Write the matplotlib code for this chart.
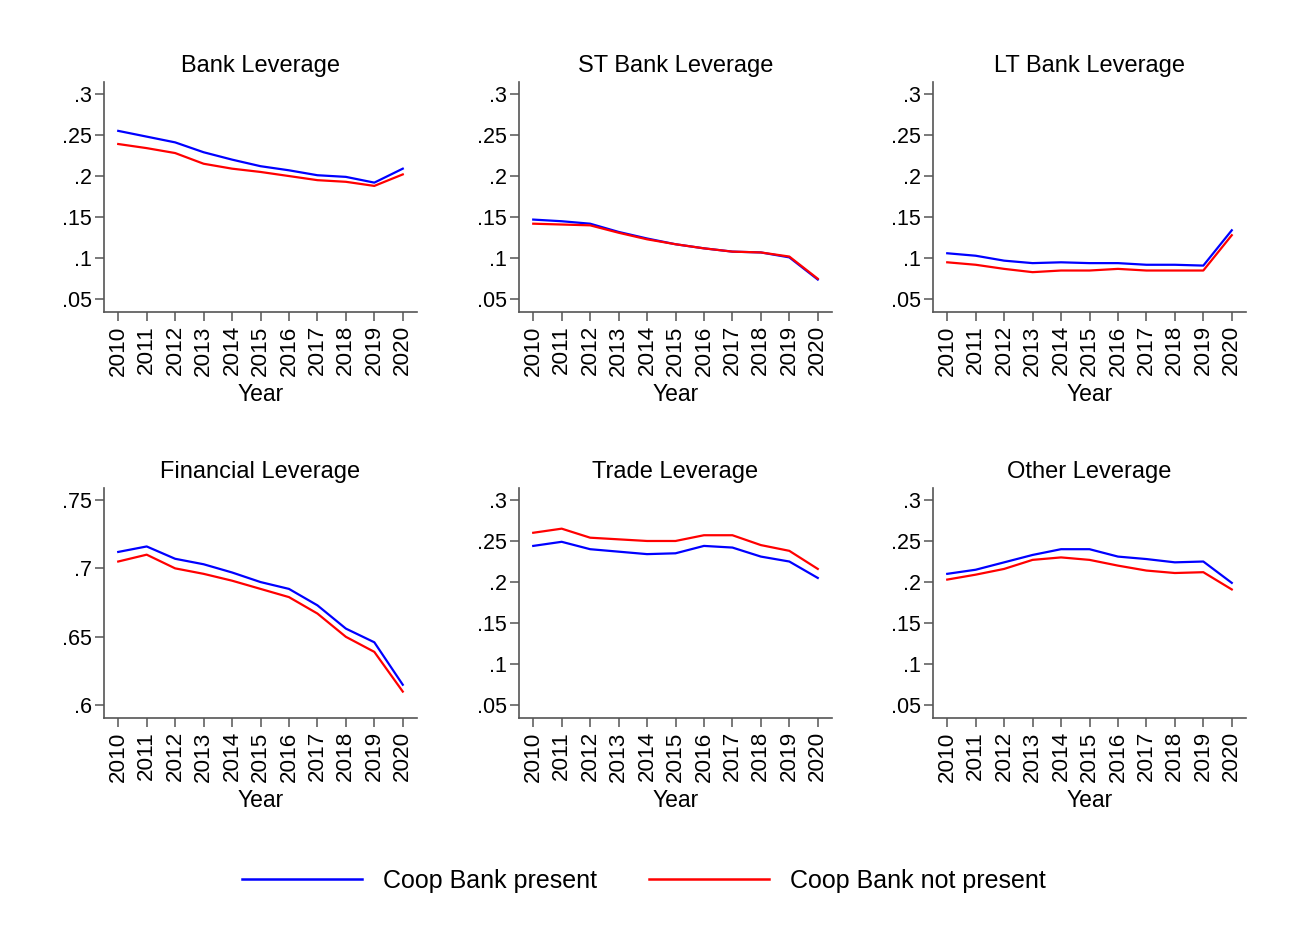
#!/usr/bin/env python3
# -*- coding: utf-8 -*-

import matplotlib
matplotlib.use('Agg')
import matplotlib.pyplot as plt
from matplotlib.ticker import FuncFormatter

years = [2010, 2011, 2012, 2013, 2014, 2015, 2016, 2017, 2018, 2019, 2020]

titles = ['Bank Leverage', 'ST Bank Leverage', 'LT Bank Leverage',
          'Financial Leverage', 'Trade Leverage', 'Other Leverage']

# coop bank present
bank_lev_p = [.255, .248, .241, .229, .220, .212, .207, .201, .199, .192, .209]
st_lev_p = [.147, .145, .142, .132, .124, .117, .112, .108, .107, .101, .074]
lt_lev_p = [.106, .103, .097, .094, .095, .094, .094, .092, .092, .091, .134]
fin_lev_p = [.712, .716, .707, .703, .697, .690, .685, .673, .656, .646, .615]
trade_lev_p = [.244, .249, .240, .237, .234, .235, .244, .242, .231, .225, .205]
other_lev_p = [.210, .215, .224, .233, .240, .240, .231, .228, .224, .225, .199]

# coop bank not present
bank_lev_np = [.239, .234, .228, .215, .209, .205, .200, .195, .193, .188, .202]
st_lev_np = [.142, .141, .140, .131, .123, .117, .112, .108, .107, .102, .075]
lt_lev_np = [.095, .092, .087, .083, .085, .085, .087, .085, .085, .085, .128]
fin_lev_np = [.705, .710, .700, .696, .691, .685, .679, .667, .650, .639, .610]
trade_lev_np = [.260, .265, .254, .252, .250, .250, .257, .257, .245, .238, .216]
other_lev_np = [.203, .209, .216, .227, .230, .227, .220, .214, .211, .212, .191]

yticks_small = [.05, .1, .15, .2, .25, .3]
yticks_fin = [.6, .65, .7, .75]

present = [bank_lev_p, st_lev_p, lt_lev_p, fin_lev_p, trade_lev_p, other_lev_p]
not_present = [bank_lev_np, st_lev_np, lt_lev_np, fin_lev_np, trade_lev_np, other_lev_np]

plt.rcParams['font.family'] = ['Liberation Sans', 'DejaVu Sans']


def stata_fmt(v, pos):
        s = ('%.2f' % v).rstrip('0').rstrip('.')
        if s.startswith('0'):
                s = s[1:]
        return s


def build_panel(ax, title, y_p, y_np, ticks):
        ax.plot(years, y_p, color='#0000ff', linewidth=1.6)
        ax.plot(years, y_np, color='#ff0000', linewidth=1.6)

        ax.set_title(title, fontsize=17, pad=7)
        ax.set_xlabel('Year', fontsize=16.5, labelpad=5)
        ax.set_xticks(years)
        ax.set_xticklabels([str(y) for y in years], rotation=90)
        ax.set_xlim(2009.5, 2020.5)

        ax.set_yticks(ticks)
        ax.yaxis.set_major_formatter(FuncFormatter(stata_fmt))
        span = ticks[-1] - ticks[0]
        ax.set_ylim(ticks[0] - 0.062 * span, ticks[-1] + 0.058 * span)

        for side in ['top', 'right']:
                ax.spines[side].set_visible(False)
        for side in ['left', 'bottom']:
                ax.spines[side].set_color('#555555')
                ax.spines[side].set_linewidth(1.2)
        ax.tick_params(axis='both', color='#555555',
                       length=6.5, width=1.1, direction='out')
        ax.tick_params(axis='y', pad=2, labelsize=15.5)
        ax.tick_params(axis='x', pad=3, labelsize=16.2)


fig = plt.figure(figsize=(12.9, 9.4), dpi=100)

lefts = [104, 519, 933]
tops = [82, 488]
w = 313
h = 230

for i in range(6):
        r = i // 3
        c = i % 3
        ax = fig.add_axes([lefts[c] / 1290, (940 - tops[r] - h) / 940, w / 1290, h / 940])
        ticks = yticks_fin if i == 3 else yticks_small
        build_panel(ax, titles[i], present[i], not_present[i], ticks)

handles = [plt.Line2D([], [], color='#0000ff', linewidth=1.8),
           plt.Line2D([], [], color='#ff0000', linewidth=1.8)]
fig.legend(handles, ['Coop Bank present', 'Coop Bank not present'],
           loc='center', bbox_to_anchor=(644 / 1290, 1 - 881 / 940),
           ncol=2, frameon=False, fontsize=18, handlelength=4.8,
           handletextpad=0.84, columnspacing=2.1)

fig.savefig('out.png', dpi=100, facecolor='white')
